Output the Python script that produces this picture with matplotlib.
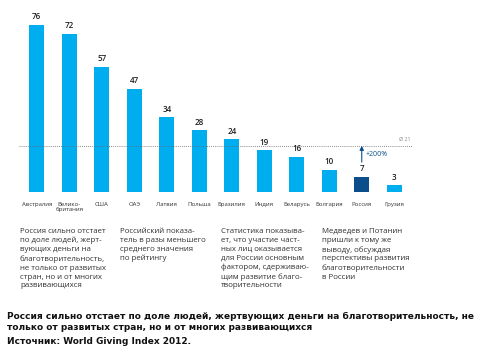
import matplotlib.pyplot as plt

# Доля людей, жертвующих деньги (World Giving Index 2012)
countries = ['Австралия', 'Велико-\nбритания', 'США', 'ОАЭ', 'Латвия', 'Польша',
             'Бразилия', 'Индия', 'Беларусь', 'Болгария', 'Россия', 'Грузия']
values = [76, 72, 57, 47, 34, 28, 24, 19, 16, 10, 7, 3]
average = 21
russia = 'Россия'

notes = [
    'Россия сильно отстает\nпо доле людей, жерт-\nвующих деньги на\nблаготворительность,\nне только от развитых\nстран, но и от многих\nразвивающихся',
    'Российский показа-\nтель в разы меньшего\nсреднего значения\nпо рейтингу',
    'Статистика показыва-\nет, что участие част-\nных лиц оказывается\nдля России основным\nфактором, сдерживаю-\nщим развитие благо-\nтворительности',
    'Медведев и Потанин\nпришли к тому же\nвыводу, обсуждая\nперспективы развития\nблаготворительности\nв России',
]
caption = ('Россия сильно отстает по доле людей, жертвующих деньги на благотворительность, не\n'
           'только от развитых стран, но и от многих развивающихся')
source = 'Источник: World Giving Index 2012.'

W, H = 479, 360
fig = plt.figure(figsize=(W / 100, H / 100), dpi=100)
fig.patch.set_facecolor('white')

ax = fig.add_axes([14 / W, (H - 192) / H, 399.75 / W, 176 / H])
x = list(range(len(values)))
colors = ['#0a4f8c' if c == russia else '#00aeef' for c in countries]
ax.bar(x, values, width=0.47, color=colors)
ax.set_xlim(-0.7, 11.6)
ax.set_ylim(0, 80)
ax.axis('off')

for xi, v in zip(x, values):
    ax.text(xi, v + 1.6, str(v), ha='center', va='bottom', fontsize=5.8,
            color='#222222', family='Open Sans', fontweight='semibold')

ax.plot([-0.54, 11.54], [average, average], color='#666666', lw=0.6,
        ls=(0, (1, 1.5)))
ax.text(11.5, average + 2, 'Ø 21', ha='right', va='bottom', fontsize=3.8,
        color='#888888', family='Open Sans')

ri = countries.index(russia)
ax.annotate('', xy=(ri, average), xytext=(ri, 13.6),
            arrowprops=dict(arrowstyle='-|>', color='#0a4f8c', lw=0.8,
                            mutation_scale=6, shrinkA=0, shrinkB=0))
ax.text(ri + 0.13, 17, '+200%', ha='left', va='center', fontsize=5,
        color='#0a4f8c', family='Open Sans')

for xi, c in zip(x, countries):
    ax.text(xi, -4.5, c, ha='center', va='top', fontsize=4.3, color='#333333',
            family='Open Sans', linespacing=0.95)

for i, t in enumerate(notes):
    fig.text((20 + i * 100.5) / W, 1 - 228 / H, t, ha='left', va='top',
             fontsize=5.7, color='#333333', family='Open Sans', linespacing=1.36)

fig.text(7 / W, 1 - 312 / H, caption, ha='left', va='top', fontsize=6.45,
         fontweight='bold', color='#111111', family='DejaVu Sans', linespacing=1.3)
fig.text(7 / W, 1 - 337 / H, source, ha='left', va='top', fontsize=6.45,
         fontweight='bold', color='#111111', family='DejaVu Sans')

fig.savefig('out.png', dpi=100, facecolor='white')
